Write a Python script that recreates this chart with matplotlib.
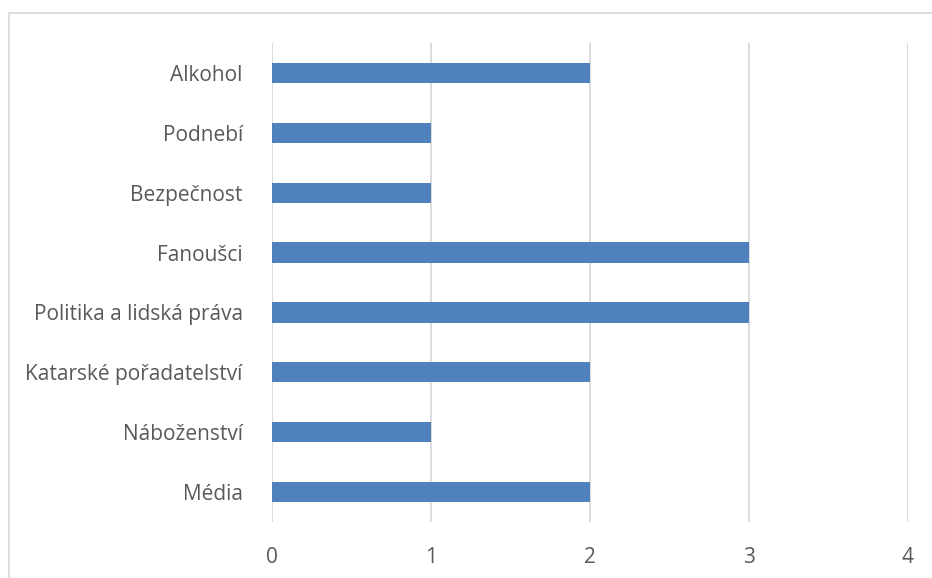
import numpy as np
import matplotlib.pyplot as plt
from matplotlib.patches import Rectangle

plt.rcParams['font.family'] = ['Open Sans', 'DejaVu Sans']

# kategorie shora dolu
kategorie = ["Alkohol", "Podnebí", "Bezpečnost", "Fanoušci", "Politika a lidská práva",
             "Katarské pořadatelství", "Náboženství", "Média"]
pocty = [2, 1, 1, 3, 3, 2, 1, 2]

W, H = 932, 578
fig = plt.figure(figsize=(W / 100, H / 100), dpi=100)
ax = fig.add_axes([272 / W, 1 - 522 / H, (908 - 272) / W, (522 - 43) / H])

y = np.arange(len(kategorie))
ax.barh(y, pocty, height=0.34, color="#4F81BD", zorder=3)
ax.set_ylim(len(kategorie) - 0.5, -0.5)
ax.set_xlim(0, 4)
ax.set_xticks([0, 1, 2, 3, 4])
ax.set_yticks(y)
ax.set_yticklabels(kategorie)
ax.grid(axis="x", color="#D9D9D9", linewidth=1.3, zorder=0)
for s in ax.spines.values():
    s.set_visible(False)
ax.tick_params(length=0, labelsize=15, labelcolor="#595959")
ax.tick_params(axis="x", pad=18)
ax.tick_params(axis="y", pad=21)

# okraj grafu
fig.patches.append(Rectangle((8.5 / W, -0.1), 1.2, 1 - 13 / H + 0.1,
                             transform=fig.transFigure, fill=False,
                             edgecolor="#D9D9D9", linewidth=1.3))

fig.savefig("out.png", dpi=100)
